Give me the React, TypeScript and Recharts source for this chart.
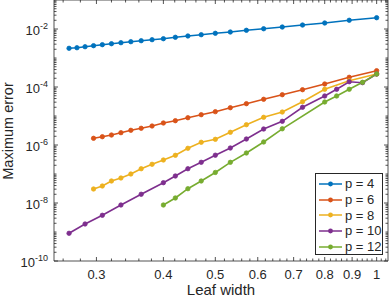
import React from 'react';
import { LineChart, Line, XAxis, YAxis, ReferenceArea, Legend } from 'recharts';

// ---------- data ----------
const P4_X = [0.2667, 0.2759, 0.2857, 0.2963, 0.3077, 0.32, 0.3333, 0.3478, 0.3636, 0.381, 0.4, 0.4211, 0.4444, 0.4706, 0.5, 0.5333, 0.5714, 0.6154, 0.6667, 0.7273, 0.8, 0.8889, 1];
const P4_Y = [2.16e-3, 2.26e-3, 2.45e-3, 2.66e-3, 2.88e-3, 3.11e-3, 3.37e-3, 3.65e-3, 3.95e-3, 4.28e-3, 4.63e-3, 5.18e-3, 5.74e-3, 6.36e-3, 7.11e-3, 7.88e-3, 9.02e-3, 1.02e-2, 1.17e-2, 1.37e-2, 1.61e-2, 2.0e-2, 2.45e-2];

const P6_X = [0.2963, 0.3077, 0.32, 0.3333, 0.3478, 0.3636, 0.381, 0.4, 0.4211, 0.4444, 0.4706, 0.5, 0.5333, 0.5714, 0.6154, 0.6667, 0.7273, 0.8, 0.8889, 1];
const P6_Y = [1.70e-6, 1.93e-6, 2.21e-6, 2.66e-6, 3.21e-6, 3.77e-6, 4.52e-6, 5.74e-6, 6.89e-6, 8.74e-6, 1.11e-5, 1.41e-5, 1.93e-5, 2.66e-5, 3.77e-5, 5.42e-5, 8.07e-5, 1.27e-4, 2.16e-4, 3.65e-4];

const P8_X = [0.2963, 0.3077, 0.32, 0.3333, 0.3478, 0.3636, 0.381, 0.4, 0.4211, 0.4444, 0.4706, 0.5, 0.5333, 0.5714, 0.6154, 0.6667, 0.7273, 0.8, 0.8889, 1];
const P8_Y = [3.04e-8, 3.86e-8, 5.74e-8, 7.28e-8, 1.0e-7, 1.52e-7, 2.16e-7, 3.04e-7, 4.41e-7, 7.69e-7, 1.24e-6, 1.57e-6, 2.74e-6, 5.01e-6, 9.02e-6, 1.37e-5, 3.11e-5, 8.34e-5, 1.65e-4, 2.81e-4];

const P10_X = [0.2667, 0.2857, 0.3077, 0.3333, 0.3636, 0.4, 0.4211, 0.4444, 0.4706, 0.5, 0.5333, 0.5714, 0.6154, 0.6667, 0.7273, 0.8, 0.8421, 0.8889, 0.9412, 1];
const P10_Y = [9.02e-10, 1.89e-9, 3.77e-9, 8.53e-9, 2.0e-8, 5.01e-8, 8.53e-8, 1.52e-7, 2.53e-7, 4.45e-7, 7.88e-7, 1.61e-6, 3.56e-6, 6.56e-6, 2.0e-5, 4.9e-5, 8.34e-5, 1.52e-4, 1.41e-4, 2.81e-4];

const P12_X = [0.4, 0.4211, 0.4444, 0.4706, 0.5, 0.5333, 0.5714, 0.6154, 0.6667, 0.8, 0.8421, 0.8889, 0.9412, 1];
const P12_Y = [8.53e-9, 1.49e-8, 3.11e-8, 5.74e-8, 1.13e-7, 2.53e-7, 5.30e-7, 1.27e-6, 3.62e-6, 3.04e-5, 4.90e-5, 8.34e-5, 1.45e-4, 2.81e-4];

const SERIES_NAMES = ['p = 4', 'p = 6', 'p = 8', 'p = 10', 'p = 12'];
const SERIES_COLORS = ['#0072BD', '#D95319', '#EDB120', '#7E2F8E', '#77AC30'];
const SERIES_XS = [P4_X, P6_X, P8_X, P10_X, P12_X];
const SERIES_YS = [P4_Y, P6_Y, P8_Y, P10_Y, P12_Y];

const X_MAJOR_TICKS = [0.3, 0.4, 0.5, 0.6, 0.7, 0.8, 0.9, 1];
const X_MAJOR_LABELS = ['0.3', '0.4', '0.5', '0.6', '0.7', '0.8', '0.9', '1'];
const X_MINOR_TICKS = [0.26, 0.28, 0.32, 0.34, 0.36, 0.38, 0.42, 0.44, 0.46, 0.48, 0.52, 0.54, 0.56, 0.58, 0.62, 0.64, 0.66, 0.68, 0.72, 0.74, 0.76, 0.78, 0.82, 0.84, 0.86, 0.88, 0.92, 0.94, 0.96, 0.98, 1.02, 1.04];
const Y_MAJOR_EXPONENTS = [-10, -8, -6, -4, -2];
const Y_DECADES = [-10, -9, -8, -7, -6, -5, -4, -3, -2];

const X_DOMAIN = [0.25, 1.05];
const Y_DOMAIN = [1e-10, 1e-1];

// ---------- layout ----------
const W = 390;
const H = 299;
const PLOT_TOP = 0;
const PLOT_RIGHT = 388;
const AXIS = '#262626';
const FONT = '"Liberation Sans", Arial, Helvetica, sans-serif';

const yTicks: number[] = [];
Y_DECADES.forEach((e) => {
  for (let m = 1; m <= 9; m++) yTicks.push(m * Math.pow(10, e));
});
yTicks.push(1e-1);
const xTicks = [...X_MINOR_TICKS, ...X_MAJOR_TICKS].sort((a, b) => a - b);

const seriesData = SERIES_XS.map((xs, i) => xs.map((x, j) => ({ x, y: SERIES_YS[i][j] })));

const XTick = (props: any) => {
  const { x, y, payload } = props;
  const v = payload.value;
  const idx = X_MAJOR_TICKS.findIndex((t) => Math.abs(t - v) < 1e-9);
  const len = idx >= 0 ? 4 : 2.5;
  return (
    <g>
      <line x1={x} x2={x} y1={y} y2={y - len} stroke={AXIS} strokeWidth={0.8} />
      <line x1={x} x2={x} y1={PLOT_TOP} y2={PLOT_TOP + len} stroke={AXIS} strokeWidth={0.8} />
      {idx >= 0 && (
        <text x={x} y={y + 18} textAnchor="middle" fontSize={13} fontFamily={FONT} fill={AXIS}>
          {X_MAJOR_LABELS[idx]}
        </text>
      )}
    </g>
  );
};

const YTick = (props: any) => {
  const { x, y, payload } = props;
  const v = payload.value;
  const e = Math.round(Math.log10(v));
  const isMajor = Math.abs(v / Math.pow(10, e) - 1) < 1e-6 && Y_MAJOR_EXPONENTS.indexOf(e) >= 0;
  const len = isMajor ? 4 : 2.5;
  return (
    <g>
      <line x1={x} x2={x + len} y1={y} y2={y} stroke={AXIS} strokeWidth={0.8} />
      <line x1={PLOT_RIGHT} x2={PLOT_RIGHT - len} y1={y} y2={y} stroke={AXIS} strokeWidth={0.8} />
      {isMajor && (
        <text x={x - 6} y={y + 6} textAnchor="end" fontSize={13} fontFamily={FONT} fill={AXIS}>
          10
          <tspan fontSize={9} dy={-6}>{`-${Math.abs(e)}`}</tspan>
        </text>
      )}
    </g>
  );
};

const LegendBox = () => (
  <div
    style={{
      width: 68,
      height: 82,
      border: `1px solid ${AXIS}`,
      background: '#fff',
      boxSizing: 'border-box',
      paddingTop: 2,
      fontFamily: FONT,
      fontSize: 13,
      color: AXIS,
    }}
  >
    {SERIES_NAMES.map((name, i) => (
      <div key={name} style={{ height: 15.7, display: 'flex', alignItems: 'center', whiteSpace: 'nowrap' }}>
        <svg width={28} height={10} style={{ flex: 'none' }}>
          <line x1={3} x2={26} y1={5} y2={5} stroke={SERIES_COLORS[i]} strokeWidth={1.5} />
          <circle cx={14.5} cy={5} r={2.4} fill={SERIES_COLORS[i]} />
        </svg>
        <span style={{ marginLeft: 1, lineHeight: '15px' }}>{name}</span>
      </div>
    ))}
  </div>
);

export default function App() {
  return (
    <div style={{ position: 'absolute', left: 0, top: 0, width: W, height: H, background: '#fff' }}>
      <LineChart width={W} height={H} margin={{ top: 0, right: 2, bottom: 0, left: 0 }}>
        <XAxis
          type="number"
          dataKey="x"
          scale="log"
          domain={X_DOMAIN}
          allowDataOverflow
          ticks={xTicks}
          interval={0}
          tick={(p: any) => <XTick {...p} />}
          tickLine={false}
          tickSize={0}
          tickMargin={0}
          axisLine={false}
          height={38}
          label={() => (
            <text x={221} y={295} textAnchor="middle" fontSize={15} fontFamily={FONT} fill={AXIS}>
              Leaf width
            </text>
          )}
        />
        <YAxis
          type="number"
          dataKey="y"
          scale="log"
          domain={Y_DOMAIN}
          allowDataOverflow
          ticks={yTicks}
          interval={0}
          tick={(p: any) => <YTick {...p} />}
          tickLine={false}
          tickSize={0}
          tickMargin={0}
          axisLine={false}
          width={54}
          label={() => (
            <text x={13} y={131} transform="rotate(-90 13 131)" textAnchor="middle" fontSize={14.5} fontFamily={FONT} fill={AXIS}>
              Maximum error
            </text>
          )}
        />
        <ReferenceArea
          x1={X_DOMAIN[0]}
          x2={X_DOMAIN[1]}
          y1={Y_DOMAIN[0]}
          y2={Y_DOMAIN[1]}
          fill="none"
          stroke={AXIS}
          strokeWidth={0.8}
          ifOverflow="visible"
        />
        {seriesData.map((d, i) => (
          <Line
            key={SERIES_NAMES[i]}
            data={d}
            dataKey="y"
            name={SERIES_NAMES[i]}
            type="linear"
            stroke={SERIES_COLORS[i]}
            strokeWidth={1.6}
            dot={{ r: 2.2, fill: SERIES_COLORS[i], stroke: SERIES_COLORS[i], strokeWidth: 0.8 }}
            activeDot={false}
            isAnimationActive={false}
          />
        ))}
        <Legend
          layout="vertical"
          align="center"
          verticalAlign="middle"
          content={() => <LegendBox />}
          wrapperStyle={{ position: 'absolute', left: 315, top: 173, width: 68, height: 82 }}
        />
      </LineChart>
    </div>
  );
}
